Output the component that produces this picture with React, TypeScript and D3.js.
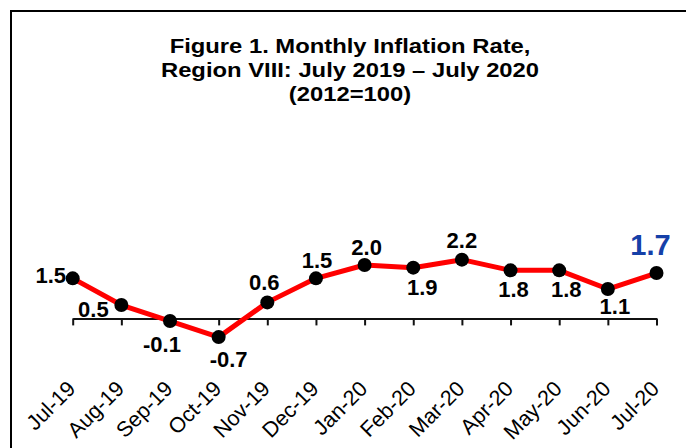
import { useEffect, useRef } from 'react';
import * as d3 from 'd3';

const months = [
  'Jul-19', 'Aug-19', 'Sep-19', 'Oct-19', 'Nov-19', 'Dec-19', 'Jan-20',
  'Feb-20', 'Mar-20', 'Apr-20', 'May-20', 'Jun-20', 'Jul-20',
];
const inflation = [1.5, 0.5, -0.1, -0.7, 0.6, 1.5, 2.0, 1.9, 2.2, 1.8, 1.8, 1.1, 1.7];
const titleLines = [
  'Figure 1. Monthly Inflation Rate,',
  'Region VIII: July 2019 \u2013 July 2020',
  '(2012=100)',
];
// label offset from its point: [dx, dy] (center x, baseline y)
const labelOffsets: [number, number][] = [
  [-22, 5], [-28, 12], [-8, 31], [10, 30], [-3, -12], [1, -10], [2, -10],
  [9, 27], [0, -12], [3, 27], [7, 27], [7, 25], [-6, -18],
];

const W = 686;
const H = 448;
const font = 'Arial, "Liberation Sans", sans-serif';

export default function App() {
  const svgRef = useRef<SVGSVGElement>(null);

  useEffect(() => {
    if (!svgRef.current) return;
    const svg = d3.select(svgRef.current);
    svg.selectAll('*').remove();
    svg.attr('width', W).attr('height', H);

    svg.append('rect').attr('width', W).attr('height', H).attr('fill', '#fff');

    // frame (runs off the right and bottom edges)
    svg.append('path')
      .attr('d', `M11,${H} V11 H${W}`)
      .attr('fill', 'none')
      .attr('stroke', '#000')
      .attr('stroke-width', 2);

    // title
    const title = svg.append('g')
      .attr('transform', 'translate(350,0) scale(1.19,1)');
    titleLines.forEach((t, i) => {
      title.append('text')
        .attr('x', 0)
        .attr('y', 53.5 + i * 24)
        .attr('text-anchor', 'middle')
        .attr('font-family', font)
        .attr('font-weight', 'bold')
        .attr('font-size', 20)
        .text(t);
    });

    const x = d3.scalePoint<string>().domain(months).range([72.7, 656.5]).padding(0);
    const y = d3.scaleLinear().domain([-1, 3]).range([345.1, 238.3]);

    // category axis crossing at zero
    const axis = svg.append('g')
      .attr('transform', `translate(0,${y(0)})`)
      .call(d3.axisBottom(x).tickSize(7).tickSizeOuter(0).tickFormat(() => ''));
    axis.select('.domain').attr('stroke', '#111').attr('stroke-width', 2);
    axis.selectAll('.tick line').attr('stroke', '#111').attr('stroke-width', 2);

    // rotated month labels at the bottom
    svg.append('g')
      .selectAll('text')
      .data(months)
      .join('text')
      .attr('transform', (d) => `translate(${(x(d) ?? 0) + 4},390) rotate(-45)`)
      .attr('text-anchor', 'end')
      .attr('font-family', font)
      .attr('font-size', 21.5)
      .attr('fill', '#000')
      .text((d) => d);

    const line = d3.line<number>()
      .x((_, i) => x(months[i]) ?? 0)
      .y((d) => y(d));

    svg.append('path')
      .datum(inflation)
      .attr('d', line)
      .attr('fill', 'none')
      .attr('stroke', '#ff0000')
      .attr('stroke-width', 5)
      .attr('stroke-linejoin', 'round');

    svg.append('g')
      .selectAll('circle')
      .data(inflation)
      .join('circle')
      .attr('cx', (_, i) => x(months[i]) ?? 0)
      .attr('cy', (d) => y(d))
      .attr('r', 7)
      .attr('fill', '#000');

    const last = inflation.length - 1;
    svg.append('g')
      .selectAll('text')
      .data(inflation)
      .join('text')
      .attr('x', (_, i) => (x(months[i]) ?? 0) + labelOffsets[i][0])
      .attr('y', (d, i) => y(d) + labelOffsets[i][1])
      .attr('text-anchor', 'middle')
      .attr('font-family', font)
      .attr('font-weight', 'bold')
      .attr('font-size', (_, i) => (i === last ? 29 : 22))
      .attr('fill', (_, i) => (i === last ? '#1540a8' : '#000'))
      .text((d) => d.toFixed(1));
  }, []);

  return <svg ref={svgRef} style={{ position: 'absolute', left: 0, top: 0 }} />;
}
